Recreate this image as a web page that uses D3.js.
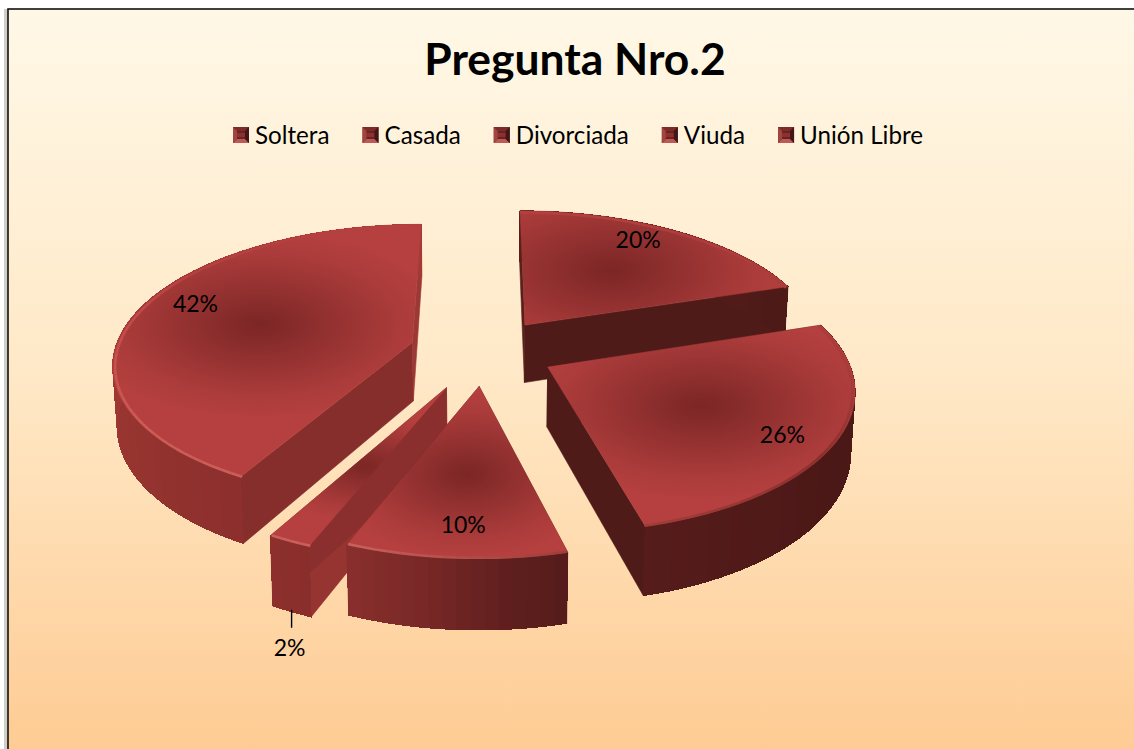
<!DOCTYPE html>
<html><head><meta charset="utf-8">
<script src="https://cdn.jsdelivr.net/npm/d3@7/dist/d3.min.js"></script>
<style>html,body{margin:0;padding:0;background:#fff;overflow:hidden}svg{display:block}text{font-family:Lato,"Open Sans",sans-serif;fill:#000}</style>
</head><body><svg id="c" width="1134" height="749"></svg>
<script>
const title = "Pregunta Nro.2";
const categories = ["Soltera","Casada","Divorciada","Viuda","Unión Libre"];
const values = [20,26,10,2,42];
const labels = ["20%","26%","10%","2%","42%"];
// drawing parameters
const explode = [0.24,0.24,0.25,0.285,0.25];
const labelPolar = [[31.4,.85],[122,.84],[183,.83],null,[291,.83]];
const drawOrder = [0,4,1,3,2];
const cutStartCol = ["#5a1e1b","#4f1b18","#6a2322","#953431","#862e2b"];
const cutEndCol = ["#4f1b18","#4f1b18","#6a2322","#8a2f2d","#9c3835"];
const cx=484, cy=351, RX=298, RY=137, K=.14, H=59;

const svg=d3.select("#c"), defs=svg.append("defs");
const bg=defs.append("linearGradient").attr("id","bg").attr("x1",0).attr("y1",0).attr("x2",0).attr("y2",1);
bg.append("stop").attr("offset",0).attr("stop-color","#fff8e7");
bg.append("stop").attr("offset",.5).attr("stop-color","#ffe8c6");
bg.append("stop").attr("offset",1).attr("stop-color","#fecb93");
svg.append("rect").attr("x",4).attr("y",9).attr("width",4).attr("height",740).attr("fill","#cfcfc8");
svg.append("rect").attr("x",8).attr("y",9).attr("width",1130).attr("height",745).attr("fill","url(#bg)").attr("stroke","#111").attr("stroke-width",1.6);

svg.append("text").text(title).attr("x",575).attr("y",75).attr("text-anchor","middle").attr("font-size",44.4).attr("font-weight",700);

// legend
const lg=svg.append("g");
let lx=233;
categories.forEach(c=>{
  const g=lg.append("g").attr("transform",`translate(${lx},127)`);
  const s=16,b=4;
  const q=(pts,f)=>g.append("polygon").attr("points",pts.map(p=>p.join(",")).join(" ")).attr("fill",f);
  g.append("rect").attr("width",s).attr("height",s).attr("fill","#6a2321");
  g.append("rect").attr("x",b).attr("y",b+2).attr("width",s-2*b).attr("height",s-2*b-4).attr("fill","#8a3231");
  q([[0,0],[s,0],[s-b,b],[b,b]],"#7d2b29");
  q([[0,s],[s,s],[s-b,s-b],[b,s-b]],"#bd5a56");
  q([[0,0],[b,b],[b,s-b],[0,s]],"#a2443f");
  q([[s,0],[s-b,b],[s-b,s-b],[s,s]],"#43151a");
  const t=lg.append("text").text(c).attr("x",lx+22).attr("y",144).attr("font-size",24.2);
  lx+=22+t.node().getComputedTextLength()+33;
});

// projection: disc plane (X right, Y toward viewer; unit radius), depth going down
function pt(off,a,r,depth){
  const X=off[0]+r*Math.sin(a), Y=off[1]-r*Math.cos(a), s=1/(1-K*Y), sz=1-depth*.012;
  return [cx+X*RX*s*sz, cy+Y*RY*s+depth*H*s];
}
const rad=d=>d*Math.PI/180;
const wallShade=d3.scaleLinear()
 .domain([0,72,120,165.6,175,190,201.6,209,240,285,360].map(rad))
 .range(["#5a1e1b","#4d1a18","#4a1816","#551c1b","#5f1f1e","#7a2928","#8a2e2c","#8c2f2d","#96342f","#a33a36","#a33a36"]);
const rimShade=d3.scaleLinear()
 .domain([0,72,100,125,165.6,201.6,240,285,305,360].map(rad))
 .range(["#b5403f","#ab3c3b","#a33a38","#8a2f2c","#a03d3a","#c9605b","#cc5a55","#c24a47","#b5403f","#b5403f"]);

const arcs=d3.pie().sort(null).value(d=>d).startAngle(0).endAngle(2*Math.PI)(values);
const line=d3.line();
const root=svg.append("g");
const blur=defs.append("filter").attr("id","soft").attr("x","-5%").attr("y","-5%").attr("width","110%").attr("height","110%");
blur.append("feGaussianBlur").attr("stdDeviation",.7);

drawOrder.forEach(i=>{
  const d=arcs[i], mid=(d.startAngle+d.endAngle)/2, e=explode[i];
  const off=[e*Math.sin(mid),-e*Math.cos(mid)];
  const g=root.append("g");
  const poly=(ps,f,w)=>g.append("path").attr("d",line(ps)+"Z").attr("fill",f).attr("stroke",f).attr("stroke-width",w);
  const steps=Math.max(4,Math.round((d.endAngle-d.startAngle)/0.04));
  const as=d3.range(steps+1).map(k=>d.startAngle+(d.endAngle-d.startAngle)*k/steps);
  // cut walls
  [[d.startAngle,cutStartCol[i]],[d.endAngle,cutEndCol[i]]].forEach(([a,f])=>{
    poly([pt(off,a,0,0),pt(off,a,1,0),pt(off,a,1,1),pt(off,a,0,1)],f,.6);
  });
  // outer wall strips
  const wall=g.append("g").attr("shape-rendering","crispEdges");
  as.slice(1).forEach((a,k)=>{
    const b=as[k], f=wallShade((a+b)/2);
    wall.append("path").attr("d",line([pt(off,b,1,0),pt(off,a,1,0),pt(off,a,1,1),pt(off,b,1,1)])+"Z").attr("fill",f).attr("stroke",f).attr("stroke-width",1);
  });
  // top face
  const c=pt(off,mid,.55,0);
  const id="f"+i;
  const rg=defs.append("radialGradient").attr("id",id).attr("gradientUnits","userSpaceOnUse")
    .attr("cx",0).attr("cy",0).attr("r",1)
    .attr("gradientTransform",`translate(${c[0]},${c[1]}) scale(${i==3?110:(i==2?140:190)},${i==3?55:(i==2?85:95)})`);
  rg.append("stop").attr("offset",0).attr("stop-color","#7b2625");
  rg.append("stop").attr("offset",.3).attr("stop-color","#8e2f2e");
  rg.append("stop").attr("offset",.75).attr("stop-color","#ab3c3b");
  rg.append("stop").attr("offset",1).attr("stop-color","#b5403f");
  const top=[pt(off,d.startAngle,0,0),...as.map(a=>pt(off,a,1,0))];
  poly(top,`url(#${id})`,.5);
  // rim highlight
  const rim=g.append("g").attr("filter","url(#soft)");
  as.slice(1).forEach((a,k)=>{
    const b=as[k];
    rim.append("path").attr("d",line([pt(off,b,.992,.015),pt(off,a,.992,.015)]))
      .attr("stroke",rimShade((a+b)/2)).attr("stroke-width",2.6).attr("fill","none");
  });
});

// labels
arcs.forEach((d,i)=>{
  const mid=(d.startAngle+d.endAngle)/2, e=explode[i];
  const off=[e*Math.sin(mid),-e*Math.cos(mid)];
  let p;
  if(labelPolar[i]){
    p=pt(off,rad(labelPolar[i][0]),labelPolar[i][1],0);
  } else {
    const b=pt(off,mid,1,1);
    svg.append("line").attr("x1",b[0]).attr("x2",b[0]).attr("y1",b[1]-2).attr("y2",b[1]+16).attr("stroke","#000").attr("stroke-width",1.4);
    p=[b[0]-2,b[1]+36];
  }
  svg.append("text").text(labels[i]).attr("x",p[0]).attr("y",p[1]).attr("dy",".36em").attr("text-anchor","middle").attr("font-size",23);
});
</script></body></html>
